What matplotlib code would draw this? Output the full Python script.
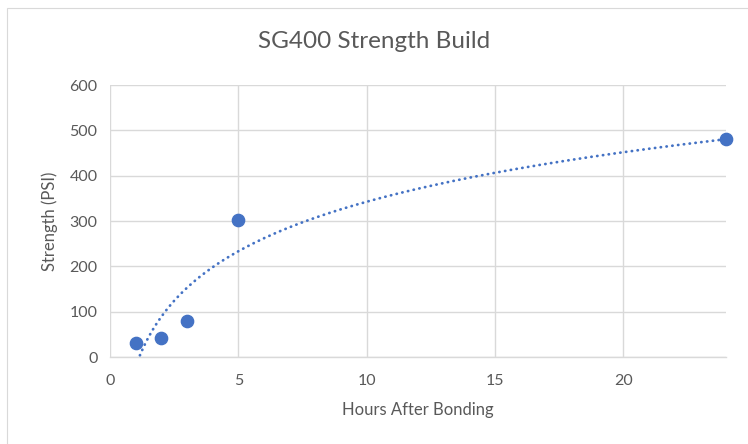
import matplotlib
matplotlib.use("Agg")
import matplotlib.pyplot as plt
import numpy as np
from matplotlib.patches import Rectangle

hours = [1, 2, 3, 5, 24]
strength = [30, 42, 80, 302, 481]
x_ticks = [0, 5, 10, 15, 20]
y_ticks = [0, 100, 200, 300, 400, 500, 600]

BLUE = "#4472C4"
TEXT = "#595959"
GRID = "#D9D9D9"

plt.rcParams["font.family"] = ["Lato", "DejaVu Sans"]

fig = plt.figure(figsize=(7.48, 4.44), dpi=100)
fig.patches.append(Rectangle((7 / 748, -0.1), 1.2, 1 - 8 / 444 + 0.1,
                             transform=fig.transFigure, fill=False,
                             edgecolor=GRID, linewidth=0.8))
ax = fig.add_axes([110 / 748, 1 - 357 / 444, 616 / 748, 272 / 444])

# logarithmic trendline fitted to the points (like Excel's)
a, b = np.polyfit(np.log(hours), strength, 1)
xs = np.linspace(min(hours), max(hours), 400)
ax.plot(xs, a * np.log(xs) + b, color=BLUE, linewidth=2.0,
        linestyle=(0, (0.1, 2.0)), dash_capstyle="round", zorder=2)
ax.scatter(hours, strength, s=78, color=BLUE, zorder=3, clip_on=False)

ax.set_xlim(0, 24)
ax.set_ylim(0, 600)
ax.set_xticks(x_ticks)
ax.set_yticks(y_ticks)
ax.grid(True, color=GRID, linewidth=1)
ax.set_axisbelow(True)
for side in ("top", "right", "left"):
    ax.spines[side].set_visible(False)
ax.spines["bottom"].set_color(GRID)
ax.spines["bottom"].set_linewidth(1)
ax.tick_params(length=0, labelsize=11.5, colors=TEXT, pad=9)
ax.tick_params(axis="x", pad=12)

ax.set_xlabel("Hours After Bonding", fontsize=12, color=TEXT, labelpad=10)
ax.set_ylabel("Strength (PSI)", fontsize=12, color=TEXT, labelpad=8)
fig.text(0.5, 1 - 42 / 444, "SG400 Strength Build", ha="center", va="center",
         fontsize=17.5, color=TEXT)

fig.savefig("out.png", dpi=100)
